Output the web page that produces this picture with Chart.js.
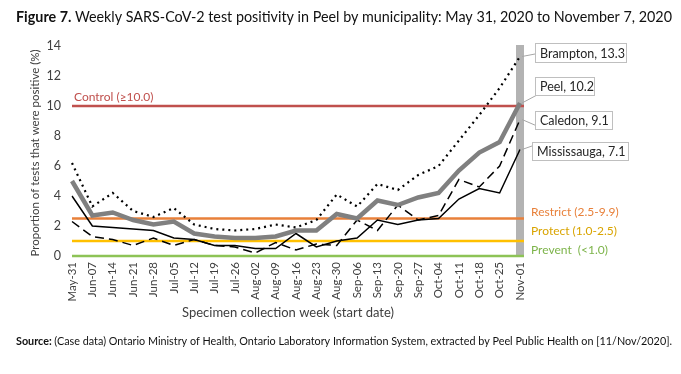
<!DOCTYPE html>
<html>
<head>
<meta charset="utf-8">
<script src="https://cdn.jsdelivr.net/npm/chart.js@4"></script>
<style>
  html, body { margin: 0; padding: 0; background: #fff; }
  #wrap { width: 681px; height: 374px; }
</style>
</head>
<body>
<div id="wrap"><canvas id="positivityChart" width="681" height="374"></canvas></div>
<script>
//Week start dates (x categories)
const weeks = ['May-31', 'Jun-07', 'Jun-14', 'Jun-21', 'Jun-28', 'Jul-05', 'Jul-12', 'Jul-19', 'Jul-26',
  'Aug-02', 'Aug-09', 'Aug-16', 'Aug-23', 'Aug-30', 'Sep-06', 'Sep-13', 'Sep-20', 'Sep-27',
  'Oct-04', 'Oct-11', 'Oct-18', 'Oct-25', 'Nov-01'];

//Weekly test positivity (%)
const brampton = [6.2, 3.3, 4.2, 3.0, 2.6, 3.2, 2.1, 1.8, 1.7, 1.8, 2.1, 1.9, 2.4, 4.1, 3.3, 4.8, 4.4, 5.4, 6.0, 7.7, 9.4, 11.2, 13.3];
const peel = [5.0, 2.7, 2.9, 2.4, 2.1, 2.3, 1.5, 1.3, 1.2, 1.2, 1.3, 1.7, 1.7, 2.8, 2.5, 3.7, 3.4, 3.9, 4.2, 5.7, 6.9, 7.6, 10.2];
const caledon = [2.3, 1.3, 1.1, 0.7, 1.2, 0.7, 1.1, 0.7, 0.6, 0.2, 0.9, 0.4, 0.8, 0.7, 2.4, 1.7, 3.4, 2.4, 2.7, 5.1, 4.6, 6.0, 9.1];
const mississauga = [4.0, 2.0, 1.9, 1.8, 1.7, 1.2, 1.1, 0.7, 0.7, 0.5, 0.5, 1.5, 0.6, 1.0, 1.2, 2.4, 2.1, 2.4, 2.5, 3.8, 4.5, 4.2, 7.1];

//Framework thresholds
const thresholdNames = ['Control (\u226510.0)', 'Restrict (2.5-9.9)', 'Protect (1.0-2.5)', 'Prevent  (<1.0)'];
const thresholdValues = [10, 2.5, 1.0, 0];

//Y axis ticks
const yTicks = [0, 2, 4, 6, 8, 10, 12, 14];

const FONT = 'Lato, "Open Sans", sans-serif';

const thresholdColors = ['#C0504D', '#E8803A', '#FFC000', '#8DC356'];
const thresholdTextColors = ['#C0504D', '#E8803A', '#D9A400', '#7DB44A'];

//Callout box positions (x, y, width, height) and leader end points
const callouts = [
  { ds: 0, name: 'Brampton', box: [535, 43, 91, 19], leadTo: [535, 54] },
  { ds: 1, name: 'Peel', box: [535, 77, 59, 18], leadTo: [537, 95] },
  { ds: 2, name: 'Caledon', box: [535, 111, 77, 18], leadTo: [537, 126] },
  { ds: 3, name: 'Mississauga', box: [532, 142, 96, 18], leadTo: [532, 146] },
];

//Draw a bold lead-in plus normal text, sized to fill a given width
function drawFitted(ctx, bold, rest, x, y, width, size) {
  ctx.font = 'bold ' + size + 'px ' + FONT;
  let w = ctx.measureText(bold + ' ').width;
  ctx.font = size + 'px ' + FONT;
  w += ctx.measureText(rest).width;
  const s = Math.min(1, width / w);
  ctx.save();
  ctx.translate(x, y);
  ctx.scale(s, 1);
  ctx.font = 'bold ' + size + 'px ' + FONT;
  ctx.fillText(bold, 0, 0);
  const bw = ctx.measureText(bold + ' ').width;
  ctx.font = size + 'px ' + FONT;
  ctx.fillText(rest, bw, 0);
  ctx.restore();
}

const annotationPlugin = {
  id: 'annotations',
  beforeDatasetsDraw(chart) {
    const ctx = chart.ctx;
    const area = chart.chartArea;
    const x = chart.scales.x;
    const y = chart.scales.y;

    //Gray bar marking the latest week
    const lastX = x.getPixelForValue(weeks.length - 1);
    ctx.save();
    ctx.fillStyle = '#B3B3B3';
    ctx.fillRect(lastX - 4, y.getPixelForValue(14) - 1, 8, y.getPixelForValue(0) - y.getPixelForValue(14) + 1);

    //Threshold lines
    thresholdValues.forEach((v, i) => {
      const py = y.getPixelForValue(v);
      ctx.strokeStyle = thresholdColors[i];
      ctx.lineWidth = 2.5;
      ctx.beginPath();
      ctx.moveTo(area.left, py);
      ctx.lineTo(lastX + 4, py);
      ctx.stroke();
    });
    ctx.restore();
  },
  afterDraw(chart) {
    const ctx = chart.ctx;
    const area = chart.chartArea;
    const y = chart.scales.y;
    ctx.save();

    //Threshold labels
    ctx.font = '12px ' + FONT;
    ctx.textBaseline = 'middle';
    ctx.textAlign = 'left';
    ctx.fillStyle = thresholdTextColors[0];
    ctx.fillText(thresholdNames[0], area.left + 2, y.getPixelForValue(thresholdValues[0]) - 9);
    const rightLabelY = [212, 231, 250];
    for (let i = 1; i < thresholdNames.length; i++) {
      ctx.fillStyle = thresholdTextColors[i];
      ctx.fillText(thresholdNames[i], 531, rightLabelY[i - 1]);
    }

    //Callouts with leader lines
    callouts.forEach((c) => {
      const meta = chart.getDatasetMeta(c.ds);
      const pt = meta.data[meta.data.length - 1];
      const value = chart.data.datasets[c.ds].data[weeks.length - 1];
      ctx.strokeStyle = '#A6A6A6';
      ctx.lineWidth = 1;
      ctx.beginPath();
      ctx.moveTo(pt.x + 2, pt.y);
      ctx.lineTo(c.leadTo[0], c.leadTo[1]);
      ctx.stroke();
      const [bx, by, bw, bh] = c.box;
      ctx.fillStyle = '#fff';
      ctx.fillRect(bx, by, bw, bh);
      ctx.strokeStyle = '#BFBFBF';
      ctx.strokeRect(bx + 0.5, by + 0.5, bw, bh);
      ctx.fillStyle = '#262626';
      ctx.font = '12.5px ' + FONT;
      ctx.fillText(c.name + ', ' + value.toFixed(1), bx + 5, by + bh / 2 + 1);
    });

    //Axis titles
    ctx.fillStyle = '#404040';
    ctx.font = '13px ' + FONT;
    ctx.textAlign = 'center';
    ctx.fillText('Specimen collection week (start date)', 288, 313);
    ctx.save();
    ctx.translate(35, (area.top + area.bottom) / 2 + 2);
    ctx.rotate(-Math.PI / 2);
    ctx.font = '11.5px ' + FONT;
    ctx.fillText('Proportion of tests that were positive (%)', 0, 0);
    ctx.restore();

    //Figure title
    ctx.textAlign = 'left';
    ctx.fillStyle = '#111';
    drawFitted(ctx, 'Figure 7.', 'Weekly SARS-CoV-2 test positivity in Peel by municipality: May 31, 2020 to November 7, 2020',
      16, 17, 656, 15);

    //Source line
    drawFitted(ctx, 'Source:', '(Case data) Ontario Ministry of Health, Ontario Laboratory Information System, extracted by Peel Public Health on [11/Nov/2020].',
      16, 341, 656, 11.5);

    ctx.restore();
  },
};

function createChart() {
  const ctx = document.getElementById('positivityChart').getContext('2d');
  return new Chart(ctx, {
    type: 'line',
    data: {
      labels: weeks,
      datasets: [
        { label: 'Brampton', data: brampton, borderColor: '#000', borderWidth: 2.2, borderDash: [2, 4], borderCapStyle: 'butt' },
        { label: 'Peel', data: peel, borderColor: '#808080', borderWidth: 4.5 },
        { label: 'Caledon', data: caledon, borderColor: '#000', borderWidth: 1.5, borderDash: [9, 5] },
        { label: 'Mississauga', data: mississauga, borderColor: '#000', borderWidth: 1.5 },
      ],
    },
    options: {
      responsive: false,
      animation: false,
      events: [],
      elements: { point: { radius: 0 }, line: { tension: 0 } },
      layout: { padding: { left: 0, top: 46, right: 161, bottom: 48 } },
      plugins: { legend: { display: false }, tooltip: { enabled: false } },
      scales: {
        x: {
          offset: false,
          grid: { display: false, drawTicks: false },
          border: { display: false },
          ticks: {
            minRotation: 90, maxRotation: 90, autoSkip: false, padding: 6,
            color: '#404040', font: { family: FONT, size: 11.5 },
          },
          afterFit: (s) => { s.height = 70; },
        },
        y: {
          min: 0, max: 14,
          grid: { display: false, drawTicks: false },
          border: { display: false },
          afterBuildTicks: (s) => { s.ticks = yTicks.map((v) => ({ value: v })); },
          ticks: { padding: 11, color: '#404040', font: { family: FONT, size: 12.5 } },
          afterFit: (s) => { s.width = 72; },
        },
      },
    },
    plugins: [annotationPlugin],
  });
}

document.addEventListener('DOMContentLoaded', createChart);
</script>
</body>
</html>
